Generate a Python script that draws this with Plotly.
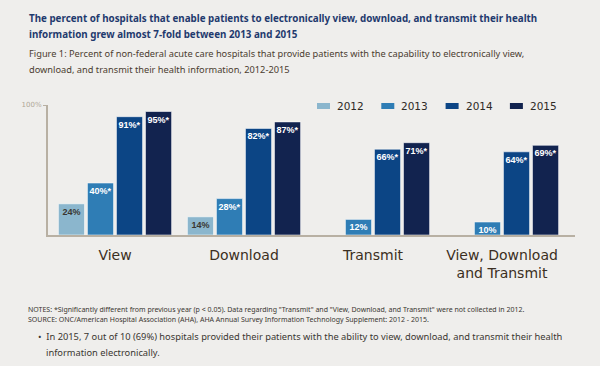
import plotly.graph_objects as go

# ---- data ----
categories = ["View", "Download", "Transmit", "View, Download<br>and Transmit"]
years = ["2012", "2013", "2014", "2015"]
v2012 = [24, 14, None, None]
v2013 = [40, 28, 12, 10]
v2014 = [91, 82, 66, 64]
v2015 = [95, 87, 71, 69]
sig2012 = [False, False, False, False]
sig2013 = [True, True, False, False]
sig2014 = [True, True, True, True]
sig2015 = [True, True, True, True]
y_tick_vals = [100]
y_tick_text = ["100%"]

series = [v2012, v2013, v2014, v2015]
sigs = [sig2012, sig2013, sig2014, sig2015]
colors = ["#8bb6cd", "#2f7db5", "#0c4585", "#12234f"]
text_colors = ["#3a3631", "white", "white", "white"]

BG = "#efeeec"
L, R, T, B = 48, 25, 105, 131
W, H = 600, 366
PW, PH = W - L - R, H - T - B


def px(x):
    return (x - L) / PW


def py(y):
    return (H - B - y) / PH


fig = go.Figure()
for yr, vals, sg, col, tc in zip(years, series, sigs, colors, text_colors):
    labels = [("" if v is None else f"{v}%" + ("*" if s else "")) for v, s in zip(vals, sg)]
    fig.add_trace(go.Bar(
        name=yr, x=categories, y=vals, text=labels,
        marker=dict(color=col, line=dict(color="rgba(255,255,255,0.55)", width=1)),
        textposition="inside", insidetextanchor="end", textangle=0,
        constraintext="none",
        textfont=dict(family="Liberation Sans", size=9, color=tc, weight="bold"),
        hoverinfo="skip", showlegend=False,
    ))

fig.update_layout(
    width=W, height=H,
    margin=dict(l=L, r=R, t=T, b=B, pad=0),
    paper_bgcolor=BG, plot_bgcolor=BG,
    barmode="group", bargap=0.1, bargroupgap=0.1,
    showlegend=False,
    font=dict(family="DejaVu Sans"),
)
fig.update_xaxes(
    type="category", range=[-0.5 - 2.5 / 129, 3.5 + 8.5 / 129],
    showline=True, linecolor="#b8b0a3", linewidth=2, showgrid=False,
    ticks="", ticklabelstandoff=6,
    tickfont=dict(family="DejaVu Sans", size=14, color="#3b2f22"),
)
fig.update_yaxes(
    range=[0, 100], showline=True, linecolor="#b8b0a3", linewidth=2,
    showgrid=False, zeroline=False,
    tickvals=y_tick_vals, ticktext=y_tick_text, ticks="outside", ticklen=3,
    tickcolor="#b8b0a3", tickfont=dict(family="DejaVu Sans", size=7, color="#b0a898"),
)

# legend (flat swatches + labels)
leg_x0, leg_pitch = 317, 64.3
for i, (yr, col) in enumerate(zip(years, colors)):
    x0 = leg_x0 + i * leg_pitch
    fig.add_shape(type="rect", xref="paper", yref="paper",
                  x0=px(x0), x1=px(x0 + 13), y0=py(109), y1=py(103),
                  fillcolor=col, line=dict(width=0))
    fig.add_annotation(x=px(x0 + 18), y=py(106), xref="paper", yref="paper", text=yr,
                       showarrow=False, xanchor="left", yanchor="middle",
                       font=dict(family="DejaVu Sans", size=10.5, color="#2e2a26"))

ann = [
    (27, 19, "The percent of hospitals that enable patients to electronically view, download, and transmit their health",
     dict(family="Noto Sans", size=9.8, color="#1f3a6e", weight="bold")),
    (27, 35, "information grew almost 7-fold between 2013 and 2015",
     dict(family="Noto Sans", size=9.8, color="#1f3a6e", weight="bold")),
    (27, 53, "Figure 1: Percent of non-federal acute care hospitals that provide patients with the capability to electronically view,",
     dict(family="Noto Sans", size=9.25, color="#4b3d30")),
    (27, 69, "download, and transmit their health information, 2012-2015",
     dict(family="Noto Sans", size=9.25, color="#4b3d30")),
    (26, 309, "NOTES: *Significantly different from previous year (p < 0.05). Data regarding \"Transmit\" and \"View, Download, and Transmit\" were not collected in 2012.",
     dict(family="Noto Sans", size=7.0, color="#3a3631")),
    (26, 319, "SOURCE: ONC/American Hospital Association (AHA), AHA Annual Survey Information Technology Supplement: 2012 - 2015.",
     dict(family="Noto Sans", size=7.0, color="#3a3631")),
    (36, 336, "•  In 2015, 7 out of 10 (69%) hospitals provided their patients with the ability to view, download, and transmit their health",
     dict(family="Noto Sans", size=9.3, color="#3a3631")),
    (44, 352, "information electronically.",
     dict(family="Noto Sans", size=9.3, color="#3a3631")),
]
for x, y, t, f in ann:
    fig.add_annotation(x=px(x), y=py(y), xref="paper", yref="paper", text=t,
                       showarrow=False, xanchor="left", yanchor="middle", align="left", font=f)

fig.write_html("out.html", config={"displayModeBar": False},
               post_script="document.body.style.margin='0';")
